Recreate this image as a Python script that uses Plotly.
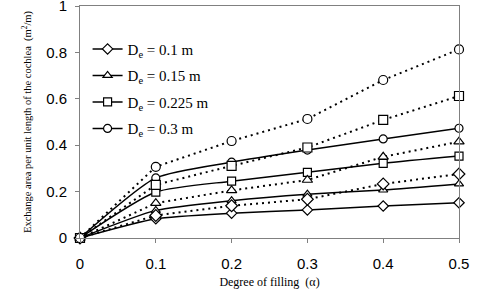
import plotly.graph_objects as go

x_vals = [0, 0.1, 0.2, 0.3, 0.4, 0.5]
diameters = ["0.1", "0.15", "0.225", "0.3"]
symbols = ["diamond", "triangle-up", "square", "circle"]
x_ticks = [0, 0.1, 0.2, 0.3, 0.4, 0.5]
x_tick_labels = ["0", "0.1", "0.2", "0.3", "0.4", "0.5"]
y_ticks = [0, 0.2, 0.4, 0.6, 0.8, 1]
y_tick_labels = ["0", "0.2", "0.4", "0.6", "0.8", "1"]

solid_01 = [0, 0.083, 0.107, 0.121, 0.138, 0.152]
solid_015 = [0, 0.119, 0.161, 0.189, 0.207, 0.233]
solid_0225 = [0, 0.198, 0.245, 0.283, 0.322, 0.353]
solid_03 = [0, 0.259, 0.327, 0.379, 0.427, 0.473]

dotted_01 = [0, 0.097, 0.139, 0.167, 0.233, 0.276]
dotted_015 = [0, 0.150, 0.205, 0.250, 0.350, 0.415]
dotted_0225 = [0, 0.229, 0.311, 0.390, 0.509, 0.612]
dotted_03 = [0, 0.307, 0.418, 0.513, 0.681, 0.813]

solid_series = [solid_01, solid_015, solid_0225, solid_03]
dotted_series = [dotted_01, dotted_015, dotted_0225, dotted_03]

fig = go.Figure()
for i, (d, sym, ys) in enumerate(zip(diameters, symbols, solid_series)):
    fig.add_trace(go.Scatter(
        x=x_vals, y=ys, mode="lines+markers",
        name=f"D<sub>e</sub> = {d} m", legendgroup=f"g{i}",
        line=dict(color="black", width=1.5, shape="spline", smoothing=0.6),
        marker=dict(symbol=sym, size=8, color="white", line=dict(width=1.2, color="black")),
        cliponaxis=False,
    ))
for i, (d, sym, ys) in enumerate(zip(diameters, symbols, dotted_series)):
    fig.add_trace(go.Scatter(
        x=x_vals, y=ys, mode="lines+markers",
        showlegend=False, legendgroup=f"g{i}",
        line=dict(color="black", width=2, dash="2px,4px"),
        marker=dict(symbol=sym, size=9, color="white", line=dict(width=1.2, color="black")),
        cliponaxis=False,
    ))

axis_common = dict(
    showgrid=False, zeroline=False, showline=True, linecolor="#808080",
    linewidth=1, mirror=True, ticks="outside", ticklen=4, tickcolor="#808080",
    tickfont=dict(family="Liberation Sans, Arial", size=15, color="black"),
    automargin=False, ticklabeloverflow="allow",
)
fig.update_xaxes(range=[0, 0.5], tickvals=x_ticks, ticktext=x_tick_labels,
                 ticklabelstandoff=8,
                 title=dict(text="Degree of filling  (α)", standoff=6,
                            font=dict(family="Liberation Serif, Times New Roman", size=12, color="black")),
                 **axis_common)
fig.update_yaxes(range=[0, 1], tickvals=y_ticks, ticktext=y_tick_labels,
                 ticklabelstandoff=5,
                 title=dict(text="Exchange area per unit length of the cochlea  (m<sup>2</sup>/m)", standoff=12,
                            font=dict(family="Liberation Serif, Times New Roman", size=10.5, color="black")),
                 **axis_common)

fig.update_layout(
    width=480, height=296,
    margin=dict(l=80, r=21, t=6, b=58),
    plot_bgcolor="white", paper_bgcolor="white",
    legend=dict(x=0.02, y=0.885, xanchor="left", yanchor="top",
                font=dict(family="Liberation Serif, Times New Roman", size=15, color="black"),
                itemwidth=30, bgcolor="rgba(0,0,0,0)", tracegroupgap=4),
    showlegend=True,
)
fig.write_html("out.html", config={"displayModeBar": False},
               post_script="document.body.style.margin='0px';")
